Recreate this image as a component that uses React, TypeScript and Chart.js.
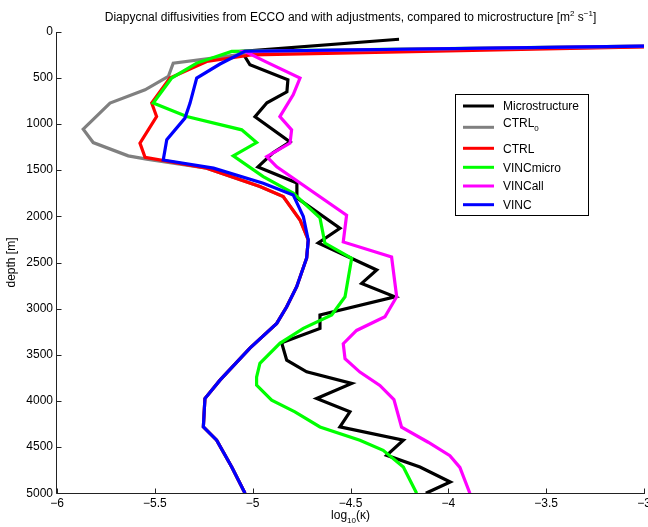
import React, { useEffect, useRef } from 'react';
import { Chart, registerables } from 'chart.js';

Chart.register(...registerables);

const FONT = '"Liberation Sans", Arial, Helvetica, sans-serif';

// Series: depth [m] and log10(kappa)
const microDepth = [82, 214, 358, 521, 651, 770, 922, 1193, 1312, 1464, 1638, 1800, 2129, 2289, 2581, 2726, 2871, 3069, 3214, 3368, 3558, 3684, 3810, 3973, 4118, 4281, 4425, 4588, 4715, 4877, 5000];
const microKappa = [-4.252, -5.056, -5.014, -4.82, -4.825, -4.927, -4.988, -4.809, -4.896, -4.973, -4.774, -4.774, -4.554, -4.665, -4.366, -4.443, -4.273, -4.656, -4.656, -4.852, -4.826, -4.724, -4.494, -4.673, -4.503, -4.554, -4.23, -4.315, -4.145, -3.99, -4.115];

const ctrl0Depth = [140, 230, 340, 485, 629, 773, 1055, 1201, 1345, 1381, 1478, 1678, 1786, 2039, 2256, 2451, 2762, 2979, 3160, 3427, 3774, 3973, 4281, 4425, 4715, 5000];
const ctrl0Kappa = [-2.4, -5.0, -5.406, -5.431, -5.55, -5.729, -5.866, -5.815, -5.636, -5.542, -5.235, -4.963, -4.844, -4.758, -4.716, -4.724, -4.775, -4.826, -4.877, -5.014, -5.167, -5.244, -5.252, -5.184, -5.107, -5.039];

const ctrlDepth = [140, 250, 322, 502, 773, 919, 1207, 1360, 1478, 1678, 1786, 2039, 2256, 2451, 2762, 2979, 3160, 3427, 3774, 3973, 4281, 4425, 4715, 5000];
const ctrlKappa = [-2.4, -5.0, -5.235, -5.423, -5.516, -5.491, -5.576, -5.55, -5.235, -4.963, -4.844, -4.758, -4.716, -4.724, -4.775, -4.826, -4.877, -5.014, -5.167, -5.244, -5.252, -5.184, -5.107, -5.039];

const vincMicroDepth = [140, 214, 340, 502, 773, 919, 1063, 1201, 1345, 1569, 1749, 2017, 2289, 2454, 2871, 3069, 3214, 3376, 3593, 3742, 3829, 3991, 4118, 4281, 4425, 4534, 4715, 5000];
const vincMicroKappa = [-2.4, -5.107, -5.286, -5.414, -5.508, -5.337, -5.056, -4.98, -5.099, -4.946, -4.793, -4.656, -4.631, -4.494, -4.528, -4.596, -4.741, -4.861, -4.963, -4.98, -4.98, -4.903, -4.784, -4.656, -4.452, -4.333, -4.23, -4.162];

const vincAllDepth = [140, 214, 322, 502, 683, 919, 1063, 1207, 1352, 1464, 1988, 2277, 2440, 2871, 3088, 3236, 3380, 3543, 3687, 3832, 3985, 4284, 4447, 4593, 4719, 5000];
const vincAllKappa = [-2.4, -5.039, -4.937, -4.758, -4.793, -4.861, -4.801, -4.809, -4.928, -4.877, -4.52, -4.537, -4.29, -4.264, -4.324, -4.469, -4.537, -4.528, -4.452, -4.35, -4.278, -4.239, -4.103, -3.992, -3.941, -3.89];

const vincDepth = [140, 212, 350, 502, 773, 936, 1171, 1390, 1478, 1641, 1768, 2003, 2256, 2451, 2762, 2979, 3160, 3427, 3774, 3973, 4281, 4425, 4715, 5000];
const vincKappa = [-2.4, -5.04, -5.167, -5.286, -5.32, -5.346, -5.439, -5.457, -5.2, -4.946, -4.793, -4.741, -4.716, -4.724, -4.775, -4.826, -4.877, -5.014, -5.167, -5.244, -5.252, -5.184, -5.107, -5.039];

const seriesLabels = ['Microstructure', 'CTRL', 'CTRL', 'VINCmicro', 'VINCall', 'VINC'];
const seriesSubs = ['', '0', '', '', '', ''];
const seriesColors = ['#000000', '#808080', '#ff0000', '#00ff00', '#ff00ff', '#0000ff'];
const seriesDepths = [microDepth, ctrl0Depth, ctrlDepth, vincMicroDepth, vincAllDepth, vincDepth];
const seriesKappas = [microKappa, ctrl0Kappa, ctrlKappa, vincMicroKappa, vincAllKappa, vincKappa];

const xTicks = [-6, -5.5, -5, -4.5, -4, -3.5, -3];
const yTicks = [0, 500, 1000, 1500, 2000, 2500, 3000, 3500, 4000, 4500, 5000];

type Seg = { t: string; size: number; dy: number };

function fmt(v: number) {
  return v < 0 ? '\u2212' + String(Math.abs(v)) : String(v);
}

function drawRich(ctx: CanvasRenderingContext2D, segs: Seg[], x: number, y: number, align: 'left' | 'center') {
  let w = 0;
  for (const s of segs) {
    ctx.font = `${s.size}px ${FONT}`;
    w += ctx.measureText(s.t).width;
  }
  let cx = align === 'center' ? x - w / 2 : x;
  ctx.textAlign = 'left';
  ctx.textBaseline = 'alphabetic';
  for (const s of segs) {
    ctx.font = `${s.size}px ${FONT}`;
    ctx.fillText(s.t, cx, y + s.dy);
    cx += ctx.measureText(s.t).width;
  }
}

const decorPlugin = {
  id: 'decor',
  afterDatasetsDraw(chart: any) {
    const ctx: CanvasRenderingContext2D = chart.ctx;
    const area = chart.chartArea;
    const xs = chart.scales.x;
    const ys = chart.scales.y;
    ctx.save();
    ctx.strokeStyle = '#222';
    ctx.lineWidth = 1;
    const lx = Math.round(area.left) - 0.5;
    const by = Math.round(area.bottom) + 0.5;
    ctx.beginPath();
    ctx.moveTo(lx, Math.round(area.top));
    ctx.lineTo(lx, by);
    ctx.lineTo(Math.round(area.right) + 1, by);
    for (const v of xTicks) {
      const px = Math.round(xs.getPixelForValue(v)) + 0.5;
      ctx.moveTo(px, by);
      ctx.lineTo(px, by - 5);
    }
    for (const v of yTicks) {
      const py = Math.round(ys.getPixelForValue(v)) + 0.5;
      ctx.moveTo(lx, py);
      ctx.lineTo(lx + 5, py);
    }
    ctx.stroke();

    // tick labels
    ctx.fillStyle = '#000';
    ctx.font = `12px ${FONT}`;
    ctx.textAlign = 'center';
    ctx.textBaseline = 'top';
    for (const v of xTicks) {
      ctx.fillText(fmt(v), xs.getPixelForValue(v), area.bottom + 4);
    }
    ctx.textAlign = 'right';
    ctx.textBaseline = 'middle';
    for (const v of yTicks) {
      ctx.fillText(fmt(v), area.left - 4, ys.getPixelForValue(v));
    }
    ctx.restore();
  },
  afterDraw(chart: any) {
    const ctx: CanvasRenderingContext2D = chart.ctx;
    const area = chart.chartArea;
    ctx.save();
    ctx.fillStyle = '#000';
    const cx = (area.left + area.right) / 2;
    // Title
    drawRich(ctx, [
      { t: 'Diapycnal diffusivities from ECCO and with adjustments, compared to microstructure [m', size: 12, dy: 0 },
      { t: '2', size: 8, dy: -5 },
      { t: ' s', size: 12, dy: 0 },
      { t: '\u22121', size: 8, dy: -5 },
      { t: ']', size: 12, dy: 0 },
    ], cx, 21, 'center');
    // X label
    drawRich(ctx, [
      { t: 'log', size: 12, dy: 0 },
      { t: '10', size: 8, dy: 4 },
      { t: '(\u03ba)', size: 12, dy: 0 },
    ], cx, 519, 'center');
    // Y label
    ctx.save();
    ctx.translate(15, (area.top + area.bottom) / 2);
    ctx.rotate(-Math.PI / 2);
    ctx.font = `12px ${FONT}`;
    ctx.textAlign = 'center';
    ctx.textBaseline = 'alphabetic';
    ctx.fillText('depth [m]', 0, 0);
    ctx.restore();

    // Legend
    ctx.fillStyle = '#fff';
    ctx.fillRect(455.5, 94.5, 133, 121);
    ctx.strokeStyle = '#000';
    ctx.lineWidth = 1;
    ctx.strokeRect(455.5, 94.5, 133, 121);
    const rowY = [106, 127.3, 148.3, 167.3, 186, 204.7];
    for (let i = 0; i < seriesLabels.length; i++) {
      ctx.strokeStyle = seriesColors[i];
      ctx.lineWidth = 3;
      ctx.beginPath();
      ctx.moveTo(463, rowY[i]);
      ctx.lineTo(494, rowY[i]);
      ctx.stroke();
      ctx.fillStyle = '#000';
      if (seriesSubs[i]) {
        drawRich(ctx, [
          { t: seriesLabels[i], size: 12, dy: 0 },
          { t: seriesSubs[i], size: 8, dy: 4 },
        ], 503, rowY[i] - 0.5, 'left');
      } else {
        drawRich(ctx, [{ t: seriesLabels[i], size: 12, dy: 0 }], 503, rowY[i] + 4.3, 'left');
      }
    }
    ctx.restore();
  },
};

export default function App() {
  const ref = useRef<HTMLCanvasElement | null>(null);
  useEffect(() => {
    document.body.style.margin = '0';
    const canvas = ref.current;
    if (!canvas) return;
    const drawOrder = [5, 4, 3, 2, 1, 0];
    const datasets = seriesLabels.map((lab, i) => ({
      label: lab + seriesSubs[i],
      data: seriesDepths[i].map((d, j) => ({ x: seriesKappas[i][j], y: d })),
      borderColor: seriesColors[i],
      backgroundColor: seriesColors[i],
      borderWidth: 3.2,
      pointRadius: 0,
      showLine: true,
      fill: false,
      tension: 0,
      order: drawOrder[i],
    }));
    const chart = new Chart(canvas, {
      type: 'scatter',
      data: { datasets },
      options: {
        responsive: false,
        animation: false,
        events: [],
        layout: { padding: { left: 0, top: 31.7, right: 4, bottom: 0 } },
        plugins: {
          legend: { display: false },
          title: { display: false },
          tooltip: { enabled: false },
        },
        scales: {
          x: {
            type: 'linear',
            min: -6,
            max: -3,
            afterFit: (s: any) => { s.height = 527 - 493.3; s.paddingLeft = 0; s.paddingRight = 0; },
            grid: { display: false, drawTicks: false },
            border: { display: false },
            ticks: { display: false },
          },
          y: {
            type: 'linear',
            min: 0,
            max: 5000,
            reverse: true,
            afterFit: (s: any) => { s.width = 57; s.paddingTop = 0; s.paddingBottom = 0; },
            grid: { display: false, drawTicks: false },
            border: { display: false },
            ticks: { display: false },
          },
        },
      },
      plugins: [decorPlugin],
    } as any);
    return () => chart.destroy();
  }, []);
  return (
    <div style={{ width: 648, height: 527 }}>
      <canvas ref={ref} width={648} height={527} style={{ display: 'block' }} />
    </div>
  );
}
